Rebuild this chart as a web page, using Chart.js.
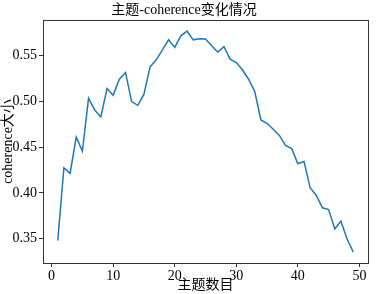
<!DOCTYPE html>
<html><head><meta charset="utf-8">
<script src="https://cdn.jsdelivr.net/npm/chart.js@4/dist/chart.umd.min.js"></script>
<style>html,body{margin:0;padding:0;background:#fff}#w{width:377px;height:294px}</style>
</head><body><div id="w"><canvas id="c"></canvas></div>
<script>
const topics = [1,2,3,4,5,6,7,8,9,10,11,12,13,14,15,16,17,18,19,20,21,22,23,24,25,26,27,28,29,30,31,32,33,34,35,36,37,38,39,40,41,42,43,44,45,46,47,48,49];
const coherence = [0.348,0.4276,0.4214,0.4612,0.4458,0.5036,0.4908,0.4831,0.5142,0.5069,0.5244,0.5318,0.500,0.4959,0.508,0.5379,0.5456,0.5566,0.5675,0.5592,0.5719,0.5771,0.5675,0.5686,0.5683,0.561,0.554,0.5599,0.5464,0.5427,0.5347,0.5244,0.511,0.4798,0.4762,0.4696,0.463,0.4521,0.4485,0.432,0.4345,0.4057,0.3973,0.3838,0.3819,0.3607,0.3691,0.3498,0.3355];
const xTicks = [0,10,20,30,40,50];
const yTicks = [0.35,0.40,0.45,0.50,0.55];
const titleText = '主题-coherence变化情况';
const xLabel = '主题数目';
const yLabel = 'coherence大小';

const FONT = "'Liberation Serif','Noto Sans CJK SC',serif";
const xmin = Math.min(...topics), xmax = Math.max(...topics);
const ymin = Math.min(...coherence), ymax = Math.max(...coherence);
const mx = (xmax-xmin)*0.05, my = (ymax-ymin)*0.05;

const boxPlugin = {
  id:'box',
  afterDraw(chart){
    const a = chart.chartArea, ctx = chart.ctx;
    ctx.save(); ctx.strokeStyle='#333'; ctx.lineWidth=1;
    ctx.strokeRect(Math.round(a.left)+0.5, Math.round(a.top)+0.5, Math.round(a.right-a.left), Math.round(a.bottom-a.top));
    ctx.restore();
  }
};

new Chart(document.getElementById('c'), {
  type:'line',
  data:{ datasets:[{ data: topics.map((t,i)=>({x:t,y:coherence[i]})), borderColor:'#1f77b4', borderWidth:1.5, pointRadius:0, tension:0, fill:false }]},
  options:{
    responsive:true, maintainAspectRatio:false, animation:false,
    layout:{ padding:{left:0,right:9,top:0,bottom:0}},
    plugins:{
      legend:{display:false}, tooltip:{enabled:false},
      title:{ display:true, text:titleText, color:'#000', font:{family:FONT,size:14,weight:'normal'}, padding:{top:2,bottom:1.2} }
    },
    scales:{
      x:{ type:'linear', min:xmin-mx, max:xmax+mx,
        afterBuildTicks(s){ s.ticks = xTicks.map(v=>({value:v})); },
        afterFit(s){ s.height = 31; },
        grid:{ drawOnChartArea:false, drawTicks:true, tickLength:4, color:'#333' },
        border:{ display:false },
        ticks:{ color:'#000', padding:1, maxRotation:0, autoSkip:false, font:{family:FONT,size:14}, callback:v=>String(v) },
        title:{ display:true, text:xLabel, color:'#000', font:{family:FONT,size:14}, padding:{top:0,bottom:0} }
      },
      y:{ type:'linear', min:ymin-my, max:ymax+my,
        afterBuildTicks(s){ s.ticks = yTicks.map(v=>({value:v})); },
        afterFit(s){ s.width = 43; },
        grid:{ drawOnChartArea:false, drawTicks:true, tickLength:4, color:'#333' },
        border:{ display:false },
        ticks:{ color:'#000', padding:2, autoSkip:false, font:{family:FONT,size:14}, callback:v=>v.toFixed(2) },
        title:{ display:true, text:yLabel, color:'#000', font:{family:FONT,size:14}, padding:{top:0,bottom:0} }
      }
    }
  },
  plugins:[boxPlugin]
});
</script></body></html>
